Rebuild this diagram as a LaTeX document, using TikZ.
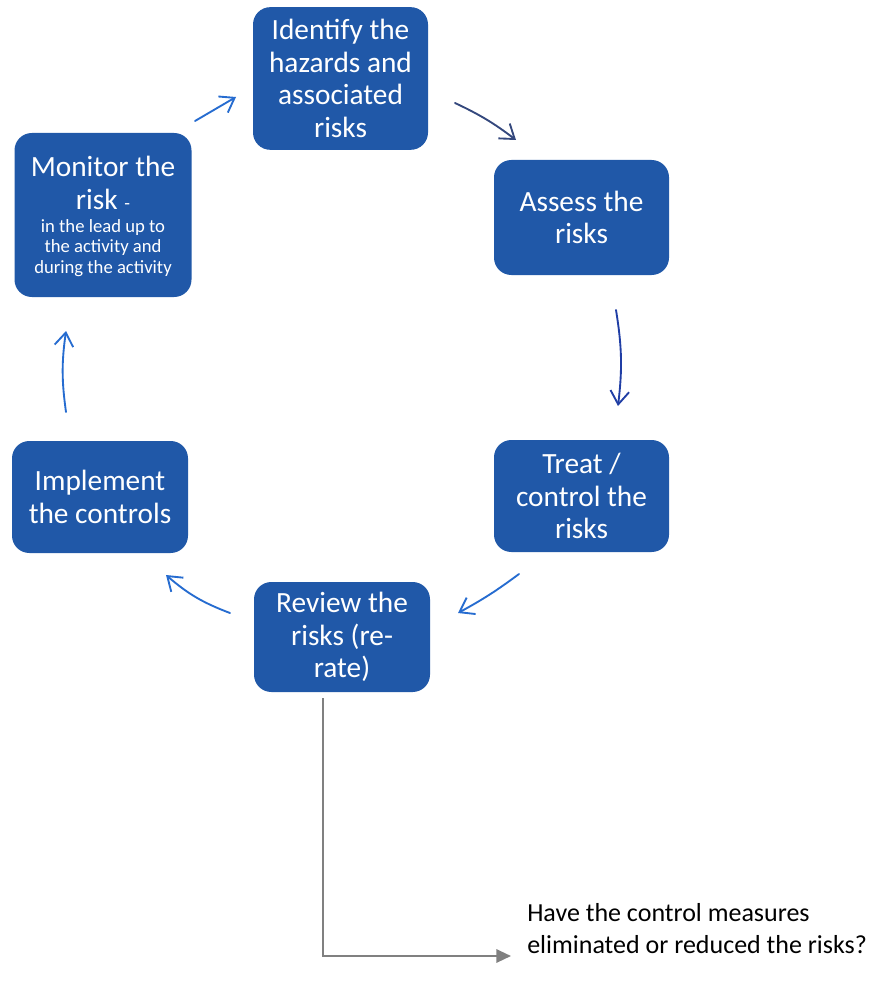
\documentclass[tikz,border=0pt]{standalone}
\usepackage{fontspec}
\setmainfont{Carlito}
\usetikzlibrary{arrows.meta}
\definecolor{boxblue}{RGB}{32,88,168}
\definecolor{arrblue}{RGB}{38,108,208}
\definecolor{arrnavy}{RGB}{52,72,125}
\definecolor{arrdeep}{RGB}{32,62,165}
\definecolor{linegray}{RGB}{128,128,128}
\begin{document}
\begin{tikzpicture}[x=0.75pt,y=-0.75pt,
  stepbox/.style={fill=boxblue, draw=none, rounded corners=13pt, inner sep=0pt,
    text=white, align=center, font=\fontsize{22}{24.4}\selectfont},
  cyc/.style={draw=arrblue, line width=1.4pt, line cap=round,
    -{Straight Barb[length=10pt,width=14pt,line width=1.4pt]}},
  graylink/.style={draw=linegray, line width=1.6pt,
    -{Triangle[length=11pt,width=10pt]}}]
\useasboundingbox (0,0) rectangle (884,991);
\fill[white] (0,0) rectangle (884,991);

\node[stepbox, minimum width=131.25pt, minimum height=107pt] (identify) at (340.5,78.5)
  {Identify the\\hazards and\\associated\\risks};
\node[stepbox, minimum width=131.25pt, minimum height=86.25pt] (assess) at (581.5,217.5)
  {Assess the\\risks};
\node[stepbox, minimum width=131.25pt, minimum height=84pt] (treat) at (581.5,496)
  {Treat /\\control the\\risks};
\node[stepbox, minimum width=132pt, minimum height=82.5pt] (review) at (342,637)
  {Review the\\risks (re-\\rate)};
\node[stepbox, minimum width=132pt, minimum height=84pt] (implement) at (100,497)
  {Implement\\the controls};
\node[stepbox, minimum width=132.75pt, minimum height=123pt] (monitor) at (103,215) {};
\node[text=white, align=center, font=\fontsize{22}{24.4}\selectfont, inner sep=0pt]
  (montitle) at (103,183) {Monitor the\\risk {\fontsize{14}{15.5}\selectfont -}};
\node[text=white, align=center, font=\fontsize{14}{15.5}\selectfont, inner sep=0pt]
  (monsub) at (103,248) {in the lead up to\\the activity and\\during the activity};

% cycle arrows
\coordinate (a1s) at (195,121); \coordinate (a1e) at (236,97);
\coordinate (a2s) at (455,103); \coordinate (a2e) at (516,140);
\coordinate (a3s) at (616,310); \coordinate (a3e) at (618,406);
\coordinate (a4s) at (519,574); \coordinate (a4e) at (458,613);
\coordinate (a5s) at (230,613); \coordinate (a5e) at (166,575);
\coordinate (a6s) at (66,412);  \coordinate (a6e) at (66,331);
\draw[cyc] (a1s) -- (a1e);
\draw[cyc, draw=arrnavy] (a2s) to[bend left=6] (a2e);
\draw[cyc, draw=arrdeep] (a3s) to[bend left=8] (a3e);
\draw[cyc] (a4s) to[bend left=4] (a4e);
\draw[cyc] (a5s) to[bend left=10] (a5e);
\draw[cyc] (a6s) to[bend left=8] (a6e);

% gray connector
\coordinate (g0) at (323,698);
\coordinate (g1) at (511,956);
\draw[graylink] (g0) |- (g1);

\node[anchor=west, align=left, inner sep=0pt, font=\fontsize{19.5}{24}\selectfont]
  (question) at (527,929)
  {Have the control measures\\eliminated or reduced the risks?};
\end{tikzpicture}
\end{document}
